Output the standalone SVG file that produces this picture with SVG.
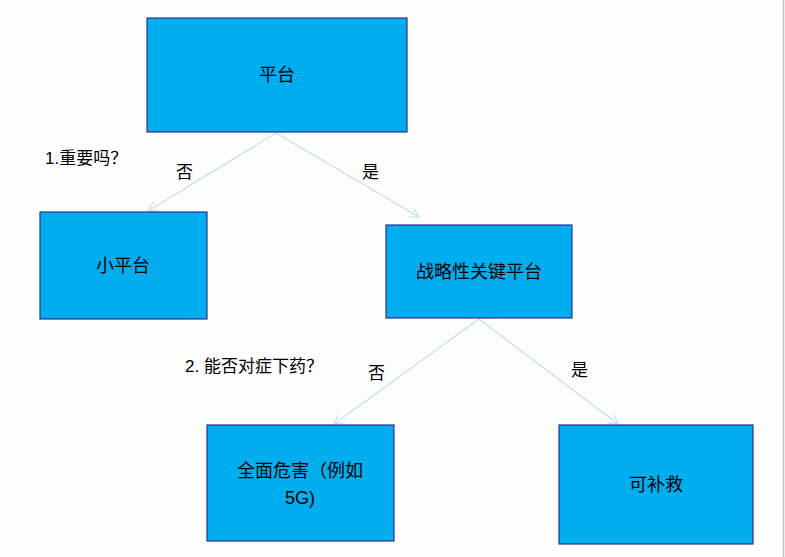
<svg xmlns="http://www.w3.org/2000/svg" width="785" height="557" viewBox="0 0 785 557">
<style>
.n{fill:#00adef;stroke:#2e3192;stroke-width:1.2}
.t{font-family:"Liberation Sans","Noto Sans CJK SC",sans-serif;font-size:18px;fill:#000;text-anchor:middle}
.l{font-family:"Liberation Sans","Noto Sans CJK SC",sans-serif;font-size:17px;fill:#000}
.c{stroke:#bfe3ea;stroke-width:1.2;fill:none;marker-end:url(#a)}
</style>
<defs><marker id="a" markerWidth="12" markerHeight="12" refX="10" refY="6" orient="auto" markerUnits="userSpaceOnUse"><path d="M1,1 L10,6 L1,11" fill="none" stroke="#bfe3ea" stroke-width="1.2"/></marker></defs>
<rect width="785" height="557" fill="#fdfdfd"/>
<line x1="783.5" y1="0" x2="783.5" y2="557" stroke="#c0c0c0" stroke-width="1.5"/>
<g id="connectors">
<line class="c" x1="276" y1="133" x2="148" y2="211"/>
<line class="c" x1="276" y1="133" x2="419" y2="217"/>
<line class="c" x1="479" y1="319" x2="334" y2="424"/>
<line class="c" x1="479" y1="319" x2="618" y2="424"/>
</g>
<g id="n1"><rect class="n" x="147" y="18" width="260" height="114"/><text class="t" x="277" y="81">平台</text></g>
<g id="n2"><rect class="n" x="40" y="212" width="167" height="107"/><text class="t" x="123" y="272">小平台</text></g>
<g id="n3"><rect class="n" x="386" y="225" width="186" height="93"/><text class="t" x="479" y="278">战略性关键平台</text></g>
<g id="n4"><rect class="n" x="207" y="425" width="187" height="116"/><text class="t" x="300" y="477">全面危害（例如</text><text class="t" x="300" y="504">5G)</text></g>
<g id="n5"><rect class="n" x="559" y="425" width="194" height="119"/><text class="t" x="656" y="491">可补救</text></g>
<g id="labels">
<text class="l" x="45" y="164">1.重要吗？</text>
<text class="l" x="176" y="178">否</text>
<text class="l" x="362" y="178">是</text>
<text class="l" x="185" y="372">2. 能否对症下药？</text>
<text class="l" x="368" y="379">否</text>
<text class="l" x="571" y="376">是</text>
</g>
</svg>
